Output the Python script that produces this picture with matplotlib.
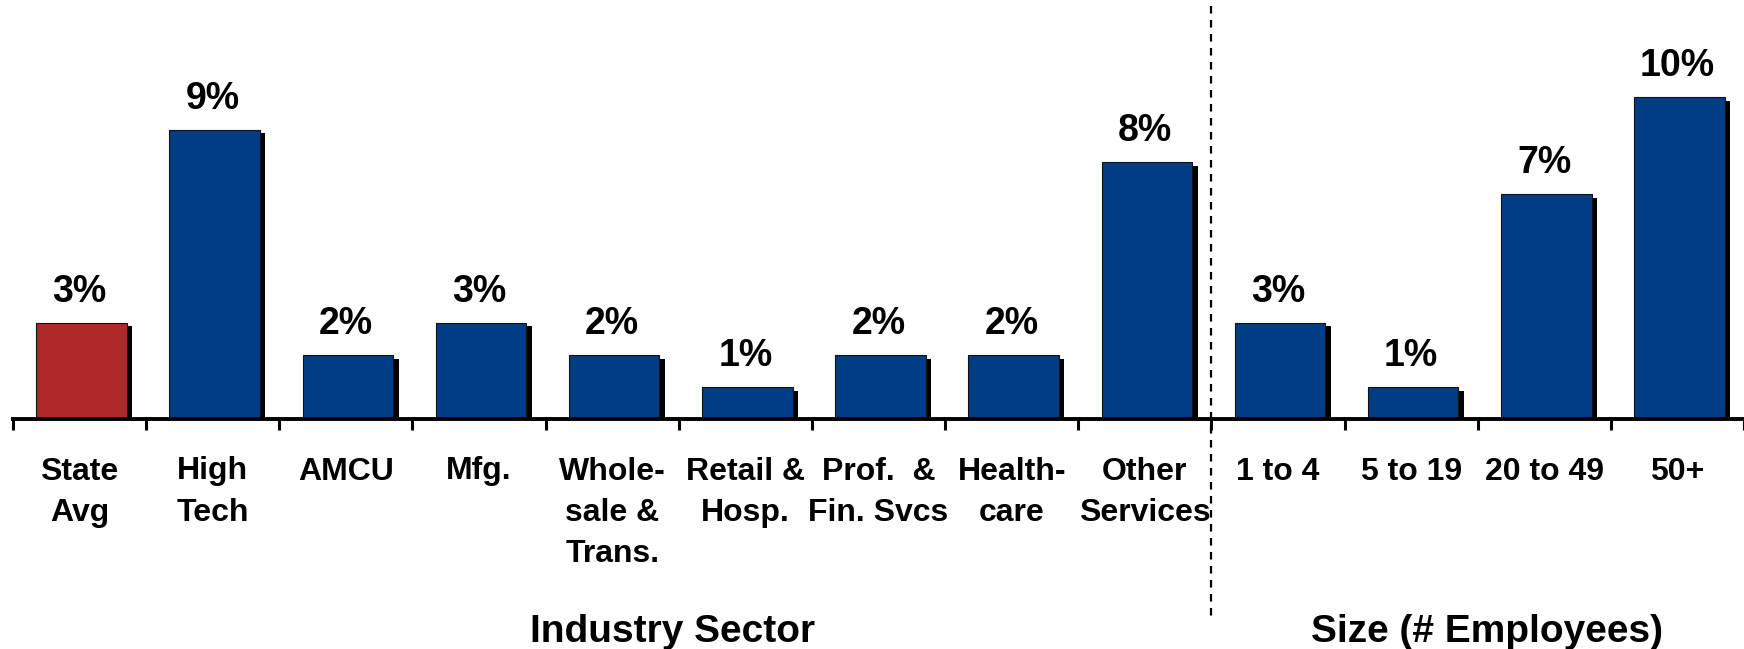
import matplotlib
matplotlib.use("Agg")
import matplotlib.pyplot as plt
import matplotlib.transforms as mtransforms

plt.rcParams["font.family"] = ["Liberation Sans", "DejaVu Sans"]
plt.rcParams["font.weight"] = "bold"

# categories and shares (%)
categories = ["State\nAvg", "High\nTech", "AMCU", "Mfg.", "Whole-\nsale &\nTrans.",
              "Retail &\nHosp.", "Prof.  &\nFin. Svcs", "Health-\ncare", "Other\nServices",
              "1 to 4", "5 to 19", "20 to 49", "50+"]
values = [3, 9, 2, 3, 2, 1, 2, 2, 8, 3, 1, 7, 10]
bar_colors = ["#AE2828"] + ["#003D86"] * 12
groups = ["Industry Sector", "Size (# Employees)"]

W, H = 1744, 649
fig = plt.figure(figsize=(W / 100, H / 100), dpi=100)
ax = fig.add_axes([13 / W, (H - 419) / H, 1 - 13 / W, 386 / H])

x = list(range(len(values)))
width = 0.68
px = 1 / 133.4  # one pixel in data units along x
py = 1 / 32.2   # one pixel in data units along y

# drop shadows behind the bars
ax.bar([i + 2 * px + 5.5 * px for i in x], [v - 4 * py for v in values], width=width,
       color="black", zorder=1)
ax.bar([i + 2 * px for i in x], values, width=width, color=bar_colors,
       edgecolor="#111111", linewidth=0.8, zorder=2)

for i, v in zip(x, values):
    ax.annotate(f"{v}%", (i, v), xytext=(0, 15), textcoords="offset points",
                ha="center", va="baseline", fontsize=27, fontweight="bold")

ax.set_xlim(-0.5, 12.5)
ax.set_ylim(0, 12)
ax.set_yticks([])
for s in ["top", "right", "left"]:
    ax.spines[s].set_visible(False)
ax.spines["bottom"].set_linewidth(2.8)

ax.set_xticks(x)
ax.set_xticklabels(categories, fontsize=23, fontweight="bold", linespacing=1.5)
ax.tick_params(axis="x", which="major", length=0, pad=27)
ax.set_xticks([i - 0.5 for i in range(len(values) + 1)], minor=True)
ax.tick_params(axis="x", which="minor", length=8, width=2.2, direction="out")

# divider between industry and size groups
tr = mtransforms.blended_transform_factory(ax.transData, fig.transFigure)
ax.plot([8.5, 8.5], [1 - 6 / H, 1 - 620 / H], transform=tr, color="black",
        lw=1.6, linestyle=(0, (3.4, 2.9)), clip_on=False)

ax.text(4.45, 1 - 642 / H, groups[0], transform=tr, ha="center", va="baseline",
        fontsize=28, fontweight="bold")
ax.text(10.57, 1 - 642 / H, groups[1], transform=tr, ha="center", va="baseline",
        fontsize=28, fontweight="bold")

fig.savefig("out.png", dpi=100)
